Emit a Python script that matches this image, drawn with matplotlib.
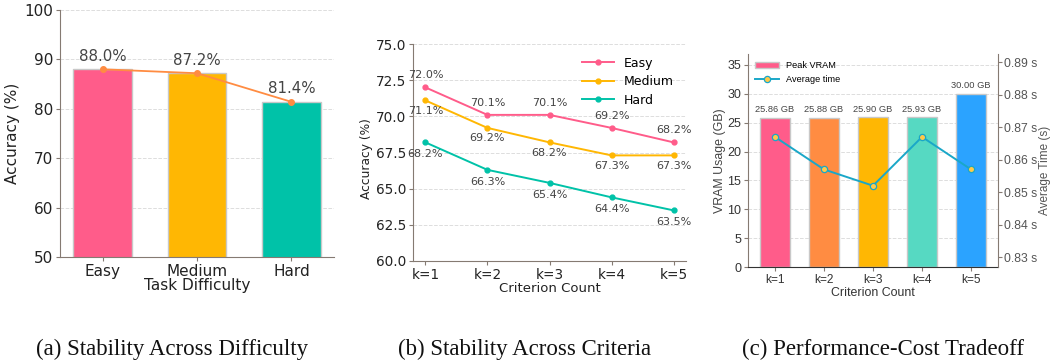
import matplotlib
matplotlib.use("Agg")
import matplotlib.pyplot as plt
import numpy as np

# ---- data ----
diff_labels = ["Easy", "Medium", "Hard"]
diff_acc = [88.0, 87.2, 81.4]

k_labels = ["k=1", "k=2", "k=3", "k=4", "k=5"]
easy_acc = [72.0, 70.1, 70.1, 69.2, 68.2]
medium_acc = [71.1, 69.2, 68.2, 67.3, 67.3]
hard_acc = [68.2, 66.3, 65.4, 64.4, 63.5]

vram = [25.86, 25.88, 25.90, 25.93, 30.00]
avg_time = [0.867, 0.857, 0.852, 0.867, 0.857]
time_ticks = [0.83, 0.84, 0.85, 0.86, 0.87, 0.88, 0.89]

captions = ["(a) Stability Across Difficulty", "(b) Stability Across Criteria",
            "(c) Performance-Cost Tradeoff"]

# ---- style ----
PINK = "#FF5C8A"
ORANGE = "#FF8C42"
YELLOW = "#FFB703"
TEAL = "#00C2A8"
LTEAL = "#56D9C2"
BLUE = "#2BA3FF"
CYAN = "#1AA7C8"
SPINE = "#857a72"
TXT = "#444444"

W, H = 1053, 362
fig = plt.figure(figsize=(W / 100, H / 100), dpi=100)

def box(l, t, r, b):
    return [l / W, 1 - b / H, (r - l) / W, (b - t) / H]

def style(ax):
    for s in ["top", "right"]:
        ax.spines[s].set_visible(False)
    ax.spines["left"].set_color(SPINE)
    ax.spines["bottom"].set_color(SPINE)
    ax.yaxis.grid(True, linestyle="--", color="#dddddd", linewidth=0.7)
    ax.set_axisbelow(True)
    ax.tick_params(colors=SPINE, length=3, width=0.8, pad=2)

# ---- panel a ----
ax1 = fig.add_axes(box(60, 10, 334, 257))
style(ax1)
x = np.arange(len(diff_labels))
ax1.bar(x, diff_acc, width=0.62, color=[PINK, YELLOW, TEAL], edgecolor="#c8c8c8", linewidth=1.0)
ax1.plot(x, diff_acc, color=ORANGE, marker="o", markersize=4, linewidth=1.3)
for xi, v in zip(x, diff_acc):
    ax1.annotate(f"{v:.1f}%", (xi, v), xytext=(0, 4), textcoords="offset points",
                 ha="center", va="bottom", fontsize=10.8, color=TXT)
ax1.set_ylim(50, 100)
ax1.set_xlim(-0.45, 2.45)
ax1.set_xticks(x)
ax1.set_xticklabels(diff_labels)
ax1.tick_params(labelsize=11, labelcolor="#222222")
ax1.set_ylabel("Accuracy (%)", fontsize=11, color="#222222", labelpad=3)
ax1.set_xlabel("Task Difficulty", fontsize=11, color="#222222", labelpad=-1)

# ---- panel b ----
ax2 = fig.add_axes(box(413, 44, 686, 261))
style(ax2)
xk = np.arange(len(k_labels))
series = [(easy_acc, PINK, "Easy", 5, "bottom"),
          (medium_acc, YELLOW, "Medium", -4, "top"),
          (hard_acc, TEAL, "Hard", -5, "top")]
for vals, c, name, off, va in series:
    ax2.plot(xk, vals, color=c, marker="o", markersize=3.5, linewidth=1.4, label=name)
    for xi, v in zip(xk, vals):
        ax2.annotate(f"{v:.1f}%", (xi, v), xytext=(0, off), textcoords="offset points",
                     ha="center", va=va, fontsize=8, color=TXT)
ax2.set_ylim(60, 75)
ax2.set_yticks([60, 62.5, 65, 67.5, 70, 72.5, 75])
ax2.set_xlim(-0.2, 4.2)
ax2.set_xticks(xk)
ax2.set_xticklabels(k_labels)
ax2.tick_params(labelsize=9.8, labelcolor="#222222")
ax2.set_ylabel("Accuracy (%)", fontsize=8.8, color="#222222", labelpad=2)
ax2.yaxis.label.set_y(0.47)
ax2.set_xlabel("Criterion Count", fontsize=9.5, color="#222222", labelpad=0)
ax2.legend(loc="upper right", frameon=False, fontsize=9, handlelength=2.5,
           borderaxespad=0.6, labelspacing=0.45)

# ---- panel c ----
SANS = "Liberation Sans"
ax3 = fig.add_axes(box(748, 54, 998, 267))
style(ax3)
ax3.spines["bottom"].set_color("#333333")
bars = ax3.bar(xk, vram, width=0.62, color=[PINK, ORANGE, YELLOW, LTEAL, BLUE],
               edgecolor="#c8c8c8", linewidth=1.0, zorder=2)
for xi, v in zip(xk, vram):
    ax3.text(xi, v + 0.6, f"{v:.2f} GB", ha="center", va="bottom", fontsize=6.7,
             color=TXT, family=SANS)
ax3.set_ylim(0, 36.9)
ax3.set_yticks(range(0, 36, 5))
ax3.set_xlim(-0.55, 4.55)
ax3.set_xticks(xk)
ax3.set_xticklabels(k_labels, family=SANS)
for lab in ax3.get_yticklabels():
    lab.set_family(SANS)
ax3.tick_params(axis="y", labelsize=9, labelcolor="#333333")
ax3.tick_params(axis="x", labelsize=8.6, labelcolor="#333333")
ax3.set_ylabel("VRAM Usage (GB)", fontsize=8.9, color=TXT, family=SANS, labelpad=1)
ax3.set_xlabel("Criterion Count", fontsize=8.9, color="#333333", family=SANS, labelpad=1)

ax4 = ax3.twinx()
for s in ["top", "left", "bottom"]:
    ax4.spines[s].set_visible(False)
ax4.spines["right"].set_color(SPINE)
ln, = ax4.plot(xk, avg_time, color=CYAN, marker="o", markersize=4.5,
               markerfacecolor="#FFC94A", markeredgecolor=CYAN, markeredgewidth=0.9,
               linewidth=1.4)
ax4.set_ylim(0.827, 0.8925)
ax4.set_yticks(time_ticks)
ax4.set_yticklabels([f"{t:.2f} s" for t in time_ticks], family=SANS)
ax4.tick_params(labelsize=8.8, labelcolor="#555555", colors=SPINE, length=3, pad=1.5)
ax4.set_ylabel("Average Time (s)", fontsize=8.5, color="#555555", family=SANS, labelpad=1)
ax4.yaxis.label.set_y(0.453)
ax3.legend([bars, ln], ["Peak VRAM", "Average time"], loc="upper left", frameon=False,
           prop={"family": SANS, "size": 6.6}, borderaxespad=0.4, handlelength=2.6)

# ---- captions ----
for cx, cap in zip([172, 525, 883], captions):
    fig.text(cx / W, 1 - 349 / H, cap, ha="center", va="center", fontsize=16.5,
             family="Liberation Serif", color="#111111")

fig.savefig("out.png", dpi=100)
